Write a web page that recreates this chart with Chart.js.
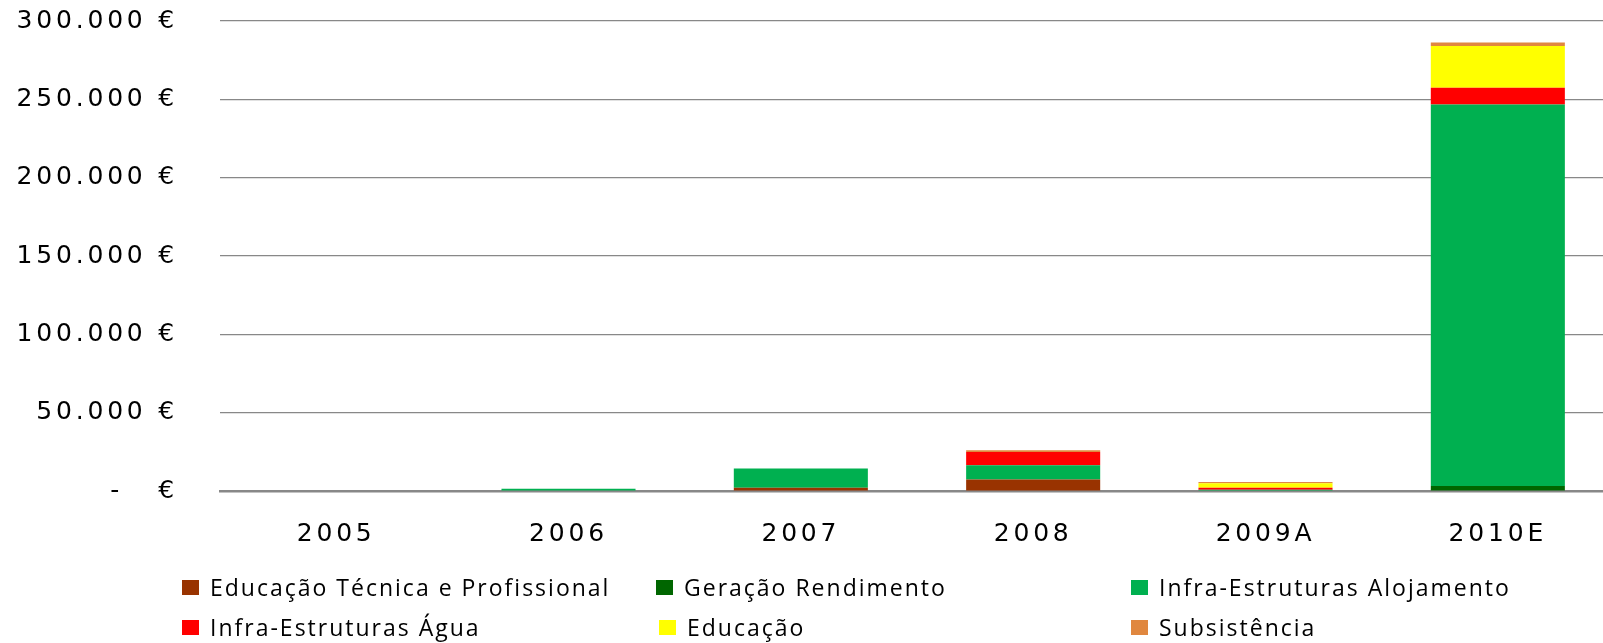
<!DOCTYPE html>
<html>
<head>
<meta charset="utf-8">
<script src="https://cdn.jsdelivr.net/npm/chart.js@4"></script>
<style>
  body { margin: 0; background: #fff; overflow: hidden; width: 1603px; height: 643px; position: relative; }
  #wrap { position: absolute; left: 0; top: 0; width: 1614px; height: 643px; }
  .leg { position: absolute; height: 15px; font-family: 'Open Sans', 'Noto Sans', sans-serif; font-size: 23px; letter-spacing: 2px; color: #000; white-space: nowrap; }
  .leg i { position: absolute; left: 0; top: 0; width: 17px; height: 15px; }
  .leg span { position: absolute; left: 28px; top: 50%; transform: translateY(-52%); line-height: 1; }
</style>
</head>
<body>
<div id="wrap"><canvas id="myChart" width="1614" height="643"></canvas></div>
<div id="legend"></div>
<script>
'use strict';

// years on the x axis
let years = ['2005', '2006', '2007', '2008', '2009A', '2010E'];

// one array per project type, values in euro (bottom of the stack first)
let tecnica = [0, 0, 2000, 7300, 0, 0];
let geracao = [0, 0, 0, 0, 0, 3200];
let alojamento = [0, 1500, 12300, 9100, 850, 243500];
let agua = [0, 0, 0, 8500, 1300, 10700];
let educacao = [0, 0, 0, 0, 2800, 26600];
let subsistencia = [0, 0, 0, 1100, 850, 2200];

let seriesNames = ['Educação Técnica e Profissional', 'Geração Rendimento', 'Infra-Estruturas Alojamento',
  'Infra-Estruturas Água', 'Educação', 'Subsistência'];
let seriesColors = ['#993300', '#006600', '#00B050', '#FF0000', '#FFFF00', '#E0873F'];
let seriesData = [tecnica, geracao, alojamento, agua, educacao, subsistencia];

// y axis ticks
let yMax = 300000;
let yStep = 50000;

const ctx = document.getElementById('myChart').getContext('2d');

function euro(value) {
  if (value === 0) {
    return '-   €';
  }
  return String(value).replace(/\B(?=(\d{3})+(?!\d))/g, '.') + ' €';
}

// the labels in the picture are drawn wide, so space the letters out
const wideText = {
  id: 'wideText',
  beforeLayout(chart) { chart.ctx.letterSpacing = '3.8px'; },
  beforeDraw(chart) { chart.ctx.letterSpacing = '3.8px'; }
};

let datasets = [];
for (let i = 0; i < seriesData.length; i++) {
  datasets.push({
    label: seriesNames[i],
    data: seriesData[i],
    backgroundColor: seriesColors[i],
    borderWidth: 0,
    categoryPercentage: 1,
    barPercentage: 0.577
  });
}

let chartObject = {
  type: 'bar',
  data: {
    labels: years,
    datasets: datasets
  },
  options: {
    responsive: false,
    devicePixelRatio: 1,
    animation: false,
    layout: { padding: { top: 21, left: 0, right: 0, bottom: 0 } },
    plugins: {
      legend: { display: false },
      tooltip: { enabled: false }
    },
    scales: {
      x: {
        stacked: true,
        afterFit(scale) { scale.height = 152; },
        grid: { display: false, drawTicks: false },
        border: { display: true, color: '#888888', width: 2.5 },
        ticks: {
          padding: 28,
          color: '#000',
          font: { family: 'DejaVu Sans', size: 25 }
        }
      },
      y: {
        stacked: true,
        min: 0,
        max: yMax,
        afterFit(scale) {
          scale.width = 220;
          // tick padding is meant for the side only
          scale.paddingTop = 0;
          scale.paddingBottom = 0;
        },
        grid: { color: '#888888', lineWidth: 1.2, drawTicks: false },
        border: { display: false },
        ticks: {
          stepSize: yStep,
          padding: 42,
          color: '#000',
          font: { family: 'DejaVu Sans', size: 25 },
          callback: function (value) { return euro(value); }
        }
      }
    }
  },
  plugins: [wideText]
};

new Chart(ctx, chartObject);

// legend laid out in three columns like the original
let legendSpots = [[182, 580], [656, 580], [1131, 580], [182, 620], [659, 620], [1131, 620]];
let legend = document.getElementById('legend');
for (let i = 0; i < seriesNames.length; i++) {
  let item = document.createElement('div');
  item.className = 'leg';
  item.style.left = legendSpots[i][0] + 'px';
  item.style.top = legendSpots[i][1] + 'px';
  let box = document.createElement('i');
  box.style.background = seriesColors[i];
  let text = document.createElement('span');
  text.textContent = seriesNames[i];
  item.appendChild(box);
  item.appendChild(text);
  legend.appendChild(item);
}
</script>
</body>
</html>
